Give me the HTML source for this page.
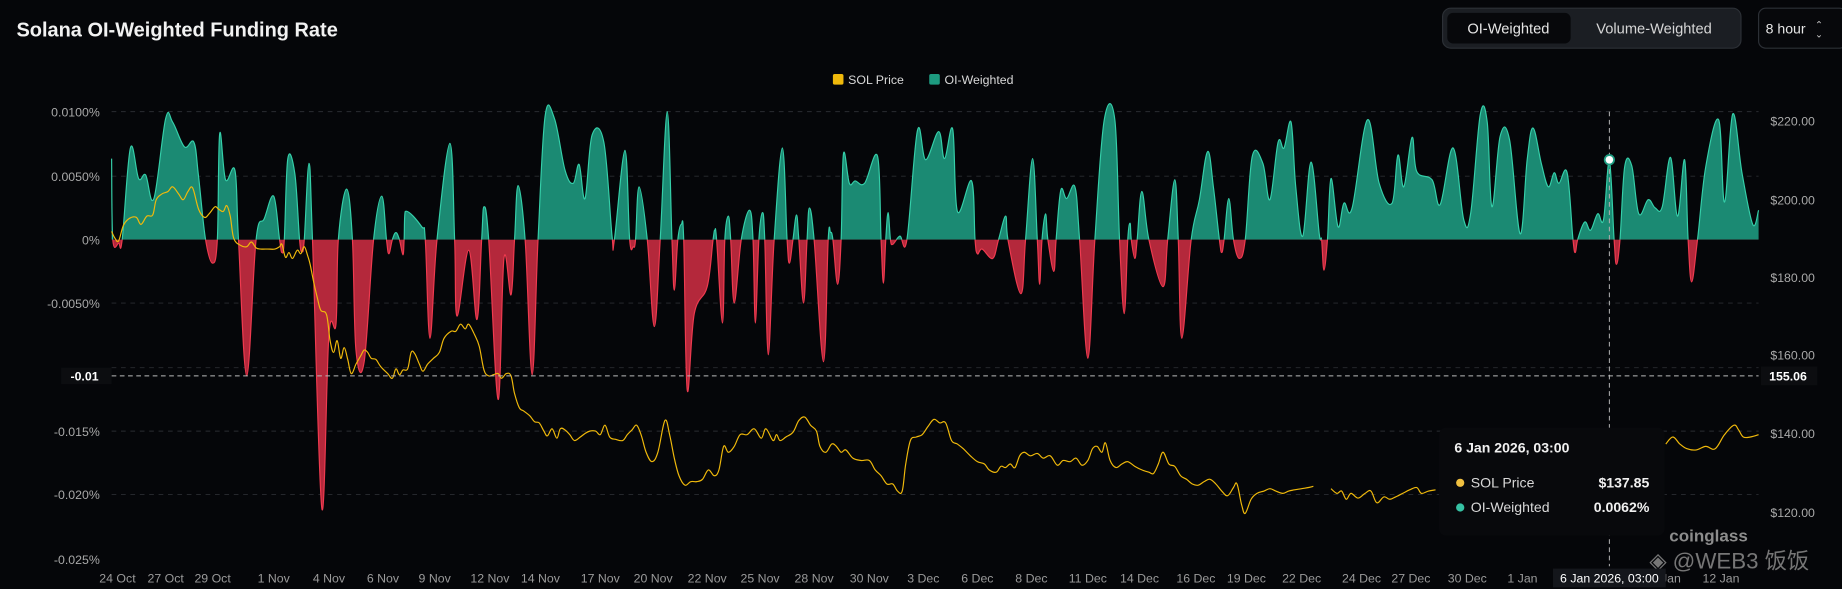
<!DOCTYPE html>
<html><head><meta charset="utf-8"><style>
html,body{margin:0;padding:0;background:#050609;overflow:hidden}
svg{display:block}
text{font-family:"Liberation Sans","Noto Sans CJK SC",sans-serif}
</style></head><body>
<svg id="s" width="1842" height="589" viewBox="0 0 1568 501.4" preserveAspectRatio="none" xmlns="http://www.w3.org/2000/svg">
<rect width="1568" height="502" fill="#050609"/>
<defs>
<clipPath id="up"><rect x="0" y="0" width="1568" height="204"/></clipPath>
<clipPath id="dn"><rect x="0" y="204" width="1568" height="300"/></clipPath>
</defs>
<text x="14" y="31" font-size="17" font-weight="bold" fill="#f2f2f2">Solana OI-Weighted Funding Rate</text>
<rect x="1228" y="7" width="254" height="34" rx="7" fill="#1b1e23" stroke="#2c3036"/>
<rect x="1232" y="11" width="105" height="26" rx="5" fill="#07080b"/>
<text x="1284" y="28.5" font-size="12.5" fill="#e6e6e6" text-anchor="middle">OI-Weighted</text>
<text x="1408" y="28.5" font-size="12.5" fill="#d6d6d6" text-anchor="middle">Volume-Weighted</text>
<rect x="1497" y="7" width="75" height="34" rx="6" fill="#07080b" stroke="#2c3036"/>
<text x="1503" y="28.5" font-size="12" fill="#e6e6e6">8 hour</text>
<text x="1545" y="24" font-size="8" fill="#ccc">⌃</text><text x="1545" y="32" font-size="8" fill="#ccc">⌄</text>
<rect x="709" y="63" width="9" height="9" rx="1.5" fill="#f0b90b"/>
<text x="722" y="71.5" font-size="10.5" fill="#d8d8d8">SOL Price</text>
<rect x="791" y="63" width="9" height="9" rx="1.5" fill="#1d9b80"/>
<text x="804" y="71.5" font-size="10.5" fill="#d8d8d8">OI-Weighted</text>
<g stroke="#2a2c31" stroke-dasharray="4,4" stroke-width="0.8">
<line x1="95" x2="1497" y1="95" y2="95"/><line x1="95" x2="1497" y1="150" y2="150"/>
<line x1="95" x2="1497" y1="258" y2="258"/><line x1="95" x2="1497" y1="313" y2="313"/>
<line x1="95" x2="1497" y1="367" y2="367"/><line x1="95" x2="1497" y1="421" y2="421"/>
</g>
<g font-size="10.5" fill="#a9a9a9" text-anchor="end">
<text x="85" y="99">0.0100%</text><text x="85" y="154">0.0050%</text><text x="85" y="208">0%</text>
<text x="85" y="262">-0.0050%</text><text x="85" y="371">-0.015%</text><text x="85" y="425">-0.020%</text><text x="85" y="480">-0.025%</text>
</g>
<g font-size="10.5" fill="#a9a9a9">
<text x="1507" y="107">$220.00</text><text x="1507" y="174">$200.00</text><text x="1507" y="240">$180.00</text>
<text x="1507" y="306">$160.00</text><text x="1507" y="373">$140.00</text><text x="1507" y="440">$120.00</text>
</g>
<g id="area"></g>
<path id="price" fill="none" stroke="#f0b90b" stroke-width="1"/>
<line x1="1370" x2="1370" y1="95" y2="482" stroke="#aaa" stroke-dasharray="4,3" stroke-width="0.9"/>
<line x1="95" x2="1497" y1="320" y2="320" stroke="#bbb" stroke-dasharray="4,3" stroke-width="0.9"/>
<circle cx="1370" cy="136" r="4" fill="#fff" stroke="#1d9b80" stroke-width="1.5"/>
<rect x="52" y="313" width="43" height="14" fill="#0c0d10"/>
<text x="60" y="324" font-size="10.5" fill="#fff" font-weight="bold">-0.01</text>
<rect x="1499" y="312" width="48" height="16" fill="#0c0d10"/>
<text x="1506" y="324" font-size="10.5" fill="#fff" font-weight="bold">155.06</text>
<rect x="1225" y="364" width="192" height="92" rx="6" fill="#08090c"/>
<text x="1238" y="385" font-size="12" font-weight="bold" fill="#f0f0f0">6 Jan 2026, 03:00</text>
<circle cx="1243" cy="411" r="3.5" fill="#f0c040"/>
<text x="1252" y="415" font-size="12" fill="#d8d8d8">SOL Price</text>
<text x="1404" y="415" font-size="12" font-weight="bold" fill="#f0f0f0" text-anchor="end">$137.85</text>
<circle cx="1243" cy="432" r="3.5" fill="#36c2a4"/>
<text x="1252" y="436" font-size="12" fill="#d8d8d8">OI-Weighted</text>
<text x="1404" y="436" font-size="12" font-weight="bold" fill="#f0f0f0" text-anchor="end">0.0062%</text>
<text x="1421" y="461" font-size="14.5" font-weight="bold" fill="#8c8c8c">coinglass</text>
<text x="1404" y="484" font-size="19" fill="#8a8a8a" opacity="0.85">◈ @WEB3 饭饭</text>
<g font-size="10.5" fill="#9a9a9a" text-anchor="middle">
<text x="100" y="496">24 Oct</text><text x="141" y="496">27 Oct</text><text x="181" y="496">29 Oct</text><text x="233" y="496">1 Nov</text>
<text x="280" y="496">4 Nov</text><text x="326" y="496">6 Nov</text><text x="370" y="496">9 Nov</text><text x="417" y="496">12 Nov</text>
<text x="460" y="496">14 Nov</text><text x="511" y="496">17 Nov</text><text x="556" y="496">20 Nov</text><text x="602" y="496">22 Nov</text>
<text x="647" y="496">25 Nov</text><text x="693" y="496">28 Nov</text><text x="740" y="496">30 Nov</text><text x="786" y="496">3 Dec</text>
<text x="832" y="496">6 Dec</text><text x="878" y="496">8 Dec</text><text x="926" y="496">11 Dec</text><text x="970" y="496">14 Dec</text>
<text x="1018" y="496">16 Dec</text><text x="1061" y="496">19 Dec</text><text x="1108" y="496">22 Dec</text><text x="1159" y="496">24 Dec</text>
<text x="1201" y="496">27 Dec</text><text x="1249" y="496">30 Dec</text><text x="1296" y="496">1 Jan</text>
<text x="1418" y="496">9 Jan</text><text x="1465" y="496">12 Jan</text>
</g>
<rect x="1322" y="484" width="96" height="16" fill="#14161b"/>
<text x="1370" y="496" font-size="10.5" fill="#fff" text-anchor="middle">6 Jan 2026, 03:00</text>
</svg>
<script>
var F=[95,135,96,204,101,207,104,204,111,126,118,152,124,149,131,169,141,101,147,104,157,125,165,121,169,150,175,204,181,224,185,204,187,114,192,153,200,145,203,204,210,320,218,204,225,186,233,167,238,204,240,215,242,204,245,135,251,148,255,204,257,214,259,204,263,139,266,204,274,433,280,285,286,276,288,204,295,161,300,204,303,298,310,308,318,204,325,167,329,204,331,216,334,204,337,198,340,204,343,217,344,204,345,180,359,193,362,204,366,288,372,204,383,122,387,204,389,269,399,213,406,272,410,204,412,176,416,204,424,340,429,220,435,251,438,204,441,158,447,204,453,319,458,204,464,99,472,101,481,145,488,156,493,140,498,169,504,115,514,121,521,201,523,204,532,128,536,204,539,210,541,204,544,159,551,204,557,278,562,204,568,95,572,204,574,247,577,204,580,191,582,204,585,332,591,267,602,244,607,204,608.5,196,610,204,615,275,617,204,620,184,622,204,625,258,631,204,638,179,641,204,643,275,646,204,649,181,651,204,654,302,659,204,666,126,670,204,672,224,675,204,678,183,680,204,684,258,687,204,689,177,693,204,701,308,705,204,707,198,709,204,713,242,716,204,718,131,723,156,728,154,736,156,747,133,750,204,752,241,754,204,756,181,758,204,760,208,766,201,772,204,781,111,788,136,799,112,804,135,811,110,815,180,827,154,830,204,832,216,836,212,845,220,850,204,856,184,858,204,869,250,873,204,879,135,883,204,885,242,887,204,890,182,892,204,897,231,899,204,903,162,908,169,915,159,919,204,926,305,932,204,940,102,949,102,953,204,957,267,960,204,962,190,963,204,966,220,968,204,972,163,978,204,990,244,994,204,1000,153,1003,204,1006,288,1014,204,1021,170,1028,129,1033,160,1038,204,1040,215,1042,204,1046,169,1050,204,1055,220,1060,204,1066,133,1075,139,1081,170,1088,121,1093,126,1099,104,1103,159,1109,201,1116,138,1123,199,1125,204,1127,230,1130,204,1133,152,1139,193,1144,173,1151,177,1164,102,1174,156,1185,173,1190,132,1195,159,1202,117,1206,146,1219,153,1226,174,1237,126,1246,187,1252,181,1260,98,1266,104,1270,176,1277,116,1285,119,1294,199,1300,136,1305,109,1312,139,1318,159,1323,147,1327,156,1334,147,1339,204,1341,215,1343,204,1349,189,1354,196,1360,182,1365,187,1370,137,1374,204,1376,225,1379,204,1383,142,1389,141,1395,182,1403,170,1409,177,1415,176,1422,134,1428,184,1434,136,1437,204,1440,240,1445,204,1452,142,1463,102,1468,172,1475,97,1483,148,1492,191,1497,179];
function pts(a){var p=[];for(var i=0;i<a.length;i+=2)p.push([a[i],a[i+1]]);return p;}
function spline(p,t){t=t||0.18;var d="M"+p[0][0]+","+p[0][1];for(var i=0;i<p.length-1;i++){var a=p[i-1]||p[i],b=p[i],c=p[i+1],e=p[i+2]||c;
var c1x=b[0]+(c[0]-a[0])*t,c1y=b[1]+(c[1]-a[1])*t,c2x=c[0]-(e[0]-b[0])*t,c2y=c[1]-(e[1]-b[1])*t;
c1x=Math.min(Math.max(c1x,b[0]),c[0]);c2x=Math.min(Math.max(c2x,b[0]),c[0]);
d+=" C"+c1x.toFixed(1)+","+c1y.toFixed(1)+" "+c2x.toFixed(1)+","+c2y.toFixed(1)+" "+c[0]+","+c[1];}return d;}
var fp=pts(F),line=spline(fp),area=line+" L1497,204 L95,204 Z";
var ns="http://www.w3.org/2000/svg",g=document.getElementById("area");
function add(d,fill,stroke,clip){var e=document.createElementNS(ns,"path");e.setAttribute("d",d);e.setAttribute("fill",fill);e.setAttribute("stroke",stroke);e.setAttribute("stroke-width",stroke=="none"?0:1);e.setAttribute("clip-path","url(#"+clip+")");g.appendChild(e);}
add(area,"#1b8a73","none","up");add(line,"none","#35cfa9","up");
add(area,"#b4283b","none","dn");add(line,"none","#ef3a4f","dn");
var P1=[95,197,98,203,101,205,105,192,110,186,116,185,120,191,125,184,130,183,133,170,138,165,143,163,147,159,152,165,156,170,160,163,164,160,169,178,174,185,178,182,183,176,186,178,190,180,193,175,196,184,199,203,205,209,210,210,214,206,218,211,222,212,228,212,234,212,238,210,240,208,243,219,246,215,249,220,253,213,256,216,259,210,262,218,264,225,267,240,270,253,273,264,278,268,281,290,284,300,287,290,290,305,293,296,296,306,299,318,303,310,307,303,310,298,313,300,316,305,320,306,324,312,330,318,334,322,337,314,340,319,343,315,347,314,350,300,353,301,357,310,360,316,364,310,369,305,374,300,378,288,384,282,388,282,392,276,396,280,399,276,404,285,408,295,412,315,416,320,420,319,424,318,427,322,431,318,435,320,438,335,442,347,446,350,451,354,455,359,459,360,463,367,466,371,470,365,474,373,477,365,481,366,485,370,489,375,494,372,498,369,502,367,507,367,511,370,515,362,519,372,524,374,530,375,534,370,538,366,542,362,546,371,550,385,555,393,560,385,566,358,570,370,574,390,578,405,583,413,588,410,593,410,598,408,603,400,608,405,612,400,616,380,620,385,625,380,630,370,636,370,642,365,648,373,652,365,658,375,661,370,664,375,669,372,675,368,680,358,685,355,690,362,695,367,698,380,703,385,708,378,712,380,716,385,720,383,726,390,733,392,740,392,745,400,750,405,755,412,760,412,764,418,768,418,771,395,775,375,780,372,785,370,790,363,795,357,800,360,805,360,810,375,815,378,820,382,826,388,832,393,838,395,842,400,848,402,852,397,856,398,860,395,864,398,868,388,872,385,877,388,883,386,888,390,894,388,900,396,905,392,911,393,916,390,921,396,926,392,930,382,934,380,938,385,941,377,945,392,950,398,955,395,960,393,966,397,972,400,978,402,982,403,986,395,990,385,995,395,1000,397,1005,405,1010,408,1015,412,1020,413,1025,410,1030,408,1035,412,1040,418,1045,422,1050,415,1053,412,1057,430,1060,437,1065,425,1070,420,1076,418,1081,416,1086,418,1092,420,1097,418,1102,417,1108,416,1114,415,1118,414];
var P2=[1133,416,1138,420,1142,418,1146,425,1150,420,1156,424,1162,420,1167,418,1172,428,1178,423,1183,425,1188,423,1194,420,1200,417,1206,415,1210,420,1216,418,1222,417];
var P3=[1418,378,1424,372,1430,378,1436,382,1444,383,1452,380,1460,382,1468,370,1476,362,1480,366,1484,372,1490,372,1497,370];
document.getElementById("price").setAttribute("d",spline(pts(P1))+" "+spline(pts(P2))+" "+spline(pts(P3)));
</script>
</body></html>
